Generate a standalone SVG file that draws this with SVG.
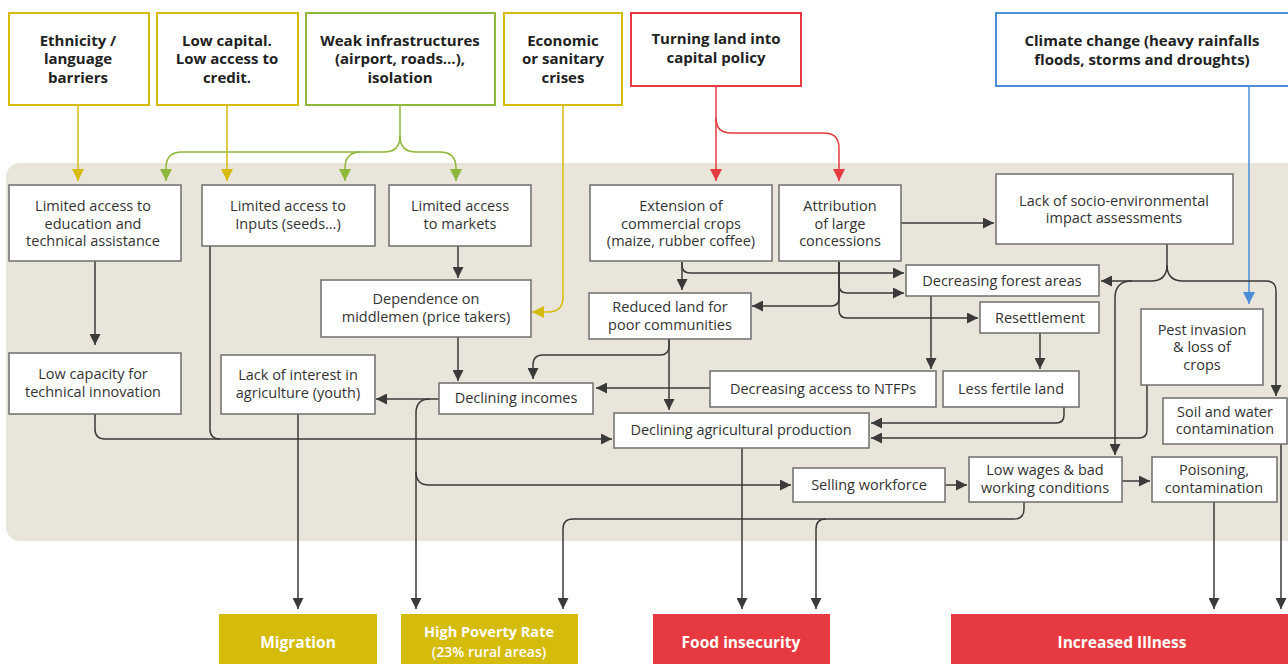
<svg xmlns="http://www.w3.org/2000/svg" width="1288" height="664" viewBox="0 0 1288 664">
<defs>
<marker id="ad" viewBox="0 0 10 10" refX="10" refY="5" markerWidth="11" markerHeight="11" markerUnits="userSpaceOnUse" orient="auto"><path d="M0,0 L10,5 L0,10 z" fill="#3a3a3a"/></marker>
<marker id="ay" viewBox="0 0 10 10" refX="10" refY="5" markerWidth="12" markerHeight="12" markerUnits="userSpaceOnUse" orient="auto"><path d="M0,0 L10,5 L0,10 z" fill="#d7bb0c"/></marker>
<marker id="ag" viewBox="0 0 10 10" refX="10" refY="5" markerWidth="12" markerHeight="12" markerUnits="userSpaceOnUse" orient="auto"><path d="M0,0 L10,5 L0,10 z" fill="#8db83a"/></marker>
<marker id="ar" viewBox="0 0 10 10" refX="10" refY="5" markerWidth="12" markerHeight="12" markerUnits="userSpaceOnUse" orient="auto"><path d="M0,0 L10,5 L0,10 z" fill="#e53a40"/></marker>
<marker id="ab" viewBox="0 0 10 10" refX="10" refY="5" markerWidth="12" markerHeight="12" markerUnits="userSpaceOnUse" orient="auto"><path d="M0,0 L10,5 L0,10 z" fill="#4a8fd8"/></marker>
</defs>
<style>
.n{fill:#fff;stroke:#6e6e6e;stroke-width:1.5}
.t{font-family:"Open Sans","Noto Sans","DejaVu Sans",sans-serif;font-size:14.5px;fill:#333;text-anchor:middle}
.h{font-family:"Open Sans","Noto Sans","DejaVu Sans",sans-serif;font-size:15px;font-weight:700;fill:#222;text-anchor:middle}
.o{font-family:"Open Sans","Noto Sans","DejaVu Sans",sans-serif;font-size:15.5px;font-weight:700;fill:#fff;text-anchor:middle}
.c{fill:none;stroke:#3a3a3a;stroke-width:1.5}
.cy{fill:none;stroke:#d7bb0c;stroke-width:1.5}
.cg{fill:none;stroke:#8db83a;stroke-width:1.5}
.cr{fill:none;stroke:#e53a40;stroke-width:1.5}
.cb{fill:none;stroke:#4a8fd8;stroke-width:1.5}
</style>
<rect x="0" y="0" width="1288" height="664" fill="#fff"/>
<rect x="6" y="163" width="1296" height="378" rx="14" fill="#e9e5da"/>

<g id="connectors">
<path class="cy" d="M78,105 V181" marker-end="url(#ay)"/>
<path class="cy" d="M227,105 V181" marker-end="url(#ay)"/>
<path class="cy" d="M563,105 V297 Q563,312 548,312 H532" marker-end="url(#ay)"/>
<path class="cg" d="M400,105 V136 Q400,152 384,152 H182 Q166,152 166,168 V181" marker-end="url(#ag)"/>
<path class="cg" d="M361,152 Q345,152 345,168 V181" marker-end="url(#ag)"/>
<path class="cg" d="M400,136 Q400,152 416,152 H440 Q456,152 456,168 V181" marker-end="url(#ag)"/>
<path class="cr" d="M716,86 V181" marker-end="url(#ar)"/>
<path class="cr" d="M716,118 Q716,133 731,133 H824 Q839,133 839,148 V181" marker-end="url(#ar)"/>
<path class="cb" d="M1249,86 V304" marker-end="url(#ab)"/>

<path class="c" d="M95,261 V345" marker-end="url(#ad)"/>
<path class="c" d="M95,414 V429 Q95,439 105,439 H612" marker-end="url(#ad)"/>
<path class="c" d="M210,246 V429 Q210,439 220,439"/>
<path class="c" d="M458,246 V278" marker-end="url(#ad)"/>
<path class="c" d="M458,337 V381" marker-end="url(#ad)"/>
<path class="c" d="M439,399 H376" marker-end="url(#ad)"/>
<path class="c" d="M430,399 Q416,399 416,413 V609" marker-end="url(#ad)"/>
<path class="c" d="M416,472 Q416,485 429,485 H791" marker-end="url(#ad)"/>
<path class="c" d="M298,414 V609" marker-end="url(#ad)"/>
<path class="c" d="M669,339 V346 Q669,355 660,355 H543 Q533,355 533,365 V379" marker-end="url(#ad)"/>
<path class="c" d="M669,339 V410" marker-end="url(#ad)"/>
<path class="c" d="M710,388 H596" marker-end="url(#ad)"/>
<path class="c" d="M682,262 V290" marker-end="url(#ad)"/>
<path class="c" d="M682,262 V265 Q682,273 690,273 H904" marker-end="url(#ad)"/>
<path class="c" d="M839,262 V285 Q839,293 847,293 H904" marker-end="url(#ad)"/>
<path class="c" d="M839,262 V298 Q839,306 831,306 H752" marker-end="url(#ad)"/>
<path class="c" d="M839,262 V310 Q839,318 847,318 H978" marker-end="url(#ad)"/>
<path class="c" d="M901,223 H994" marker-end="url(#ad)"/>
<path class="c" d="M931,296 V369" marker-end="url(#ad)"/>
<path class="c" d="M1040,333 V369" marker-end="url(#ad)"/>
<path class="c" d="M1064,407 V415 Q1064,423 1056,423 H871" marker-end="url(#ad)"/>
<path class="c" d="M1147,385 V430 Q1147,438 1139,438 H871" marker-end="url(#ad)"/>
<path class="c" d="M1167,244 V265 Q1167,281 1151,281 H1101" marker-end="url(#ad)"/>
<path class="c" d="M1167,265 Q1167,281 1183,281 H1266 Q1276,281 1276,291 V396" marker-end="url(#ad)"/>
<path class="c" d="M1132,281 Q1115,281 1115,298 V455" marker-end="url(#ad)"/>
<path class="c" d="M945,485 H967" marker-end="url(#ad)"/>
<path class="c" d="M1122,481 H1150" marker-end="url(#ad)"/>
<path class="c" d="M1024,502 V509 Q1024,519 1014,519 H573 Q563,519 563,529 V609" marker-end="url(#ad)"/>
<path class="c" d="M826,519 Q816,519 816,529 V609" marker-end="url(#ad)"/>
<path class="c" d="M742,448 V609" marker-end="url(#ad)"/>
<path class="c" d="M1214,502 V609" marker-end="url(#ad)"/>
<path class="c" d="M1281,444 V609" marker-end="url(#ad)"/>
</g>

<g id="ethnicity"><rect x="9" y="13" width="140" height="92" fill="#fff" stroke="#d7bb0c" stroke-width="2"/>
<text class="h" x="78" y="46">Ethnicity /</text><text class="h" x="78" y="64">language</text><text class="h" x="78" y="83">barriers</text></g>
<g id="lowcapital"><rect x="157" y="13" width="141" height="92" fill="#fff" stroke="#d7bb0c" stroke-width="2"/>
<text class="h" x="227" y="46">Low capital.</text><text class="h" x="227" y="64">Low access to</text><text class="h" x="227" y="83">credit.</text></g>
<g id="infra"><rect x="306" y="13" width="189" height="92" fill="#fff" stroke="#8db83a" stroke-width="2"/>
<text class="h" x="400" y="46">Weak infrastructures</text><text class="h" x="400" y="64">(airport, roads…),</text><text class="h" x="400" y="83">isolation</text></g>
<g id="crises"><rect x="504" y="13" width="118" height="92" fill="#fff" stroke="#d7bb0c" stroke-width="2"/>
<text class="h" x="563" y="46">Economic</text><text class="h" x="563" y="64">or sanitary</text><text class="h" x="563" y="83">crises</text></g>
<g id="landpolicy"><rect x="631" y="13" width="170" height="73" fill="#fff" stroke="#e53a40" stroke-width="2"/>
<text class="h" x="716" y="44">Turning land into</text><text class="h" x="716" y="63">capital policy</text></g>
<g id="climate"><rect x="996" y="13" width="300" height="73" fill="#fff" stroke="#4a8fd8" stroke-width="2"/>
<text class="h" x="1142" y="46">Climate change (heavy rainfalls</text><text class="h" x="1142" y="65">floods, storms and droughts)</text></g>

<g id="education"><rect class="n" x="9" y="185" width="172" height="76"/>
<text class="t" x="93" y="211">Limited access to</text><text class="t" x="93" y="229">education and</text><text class="t" x="93" y="246">technical assistance</text></g>
<g id="inputs"><rect class="n" x="202" y="185" width="173" height="61"/>
<text class="t" x="288" y="211">Limited access to</text><text class="t" x="288" y="229">Inputs (seeds…)</text></g>
<g id="markets"><rect class="n" x="389" y="185" width="142" height="61"/>
<text class="t" x="460" y="211">Limited access</text><text class="t" x="460" y="229">to markets</text></g>
<g id="extension"><rect class="n" x="590" y="185" width="182" height="76"/>
<text class="t" x="681" y="211">Extension of</text><text class="t" x="681" y="229">commercial crops</text><text class="t" x="681" y="246">(maize, rubber coffee)</text></g>
<g id="attribution"><rect class="n" x="779" y="185" width="122" height="76"/>
<text class="t" x="840" y="211">Attribution</text><text class="t" x="840" y="229">of large</text><text class="t" x="840" y="246">concessions</text></g>
<g id="lackassess"><rect class="n" x="996" y="174" width="237" height="70"/>
<text class="t" x="1114" y="206">Lack of socio-environmental</text><text class="t" x="1114" y="223">impact assessments</text></g>
<g id="forest"><rect class="n" x="906" y="265" width="193" height="31"/>
<text class="t" x="1002" y="286">Decreasing forest areas</text></g>
<g id="dependence"><rect class="n" x="321" y="280" width="210" height="57"/>
<text class="t" x="426" y="304">Dependence on</text><text class="t" x="426" y="322">middlemen (price takers)</text></g>
<g id="reducedland"><rect class="n" x="589" y="293" width="162" height="46"/>
<text class="t" x="670" y="312">Reduced land for</text><text class="t" x="670" y="330">poor communities</text></g>
<g id="resettlement"><rect class="n" x="980" y="302" width="119" height="31"/>
<text class="t" x="1040" y="323">Resettlement</text></g>
<g id="pest"><rect class="n" x="1141" y="309" width="122" height="76"/>
<text class="t" x="1202" y="335">Pest invasion</text><text class="t" x="1202" y="352">&amp; loss of</text><text class="t" x="1202" y="370">crops</text></g>
<g id="lowcapacity"><rect class="n" x="9" y="353" width="172" height="61"/>
<text class="t" x="93" y="379">Low capacity for</text><text class="t" x="93" y="397">technical innovation</text></g>
<g id="lackinterest"><rect class="n" x="221" y="355" width="154" height="59"/>
<text class="t" x="298" y="380">Lack of interest in</text><text class="t" x="298" y="398">agriculture (youth)</text></g>
<g id="incomes"><rect class="n" x="439" y="383" width="154" height="31"/>
<text class="t" x="516" y="403">Declining incomes</text></g>
<g id="ntfps"><rect class="n" x="710" y="371" width="226" height="36"/>
<text class="t" x="823" y="394">Decreasing access to NTFPs</text></g>
<g id="lessfertile"><rect class="n" x="943" y="371" width="136" height="36"/>
<text class="t" x="1011" y="394">Less fertile land</text></g>
<g id="soil"><rect class="n" x="1163" y="398" width="124" height="46"/>
<text class="t" x="1225" y="417">Soil and water</text><text class="t" x="1225" y="434">contamination</text></g>
<g id="agriprod"><rect class="n" x="614" y="413" width="255" height="35"/>
<text class="t" x="741" y="435">Declining agricultural production</text></g>
<g id="selling"><rect class="n" x="793" y="468" width="152" height="34"/>
<text class="t" x="869" y="490">Selling workforce</text></g>
<g id="lowwages"><rect class="n" x="969" y="457" width="153" height="45"/>
<text class="t" x="1045" y="475">Low wages &amp; bad</text><text class="t" x="1045" y="493">working conditions</text></g>
<g id="poisoning"><rect class="n" x="1152" y="457" width="125" height="45"/>
<text class="t" x="1214" y="475">Poisoning,</text><text class="t" x="1214" y="493">contamination</text></g>

<g id="migration"><rect x="219" y="614" width="158" height="50" fill="#d5bb0a"/>
<text class="o" x="298" y="648">Migration</text></g>
<g id="poverty"><rect x="401" y="614" width="177" height="50" fill="#d5bb0a"/>
<text class="o" x="489" y="637" style="font-size:14.5px">High Poverty Rate</text><text class="o" x="489" y="657" style="font-size:14px;font-weight:600">(23% rural areas)</text></g>
<g id="food"><rect x="653" y="614" width="177" height="50" fill="#e73a40"/>
<text class="o" x="741" y="648">Food insecurity</text></g>
<g id="illness"><rect x="951" y="614" width="337" height="50" fill="#e73a40"/>
<text class="o" x="1122" y="648">Increased Illness</text></g>
</svg>
